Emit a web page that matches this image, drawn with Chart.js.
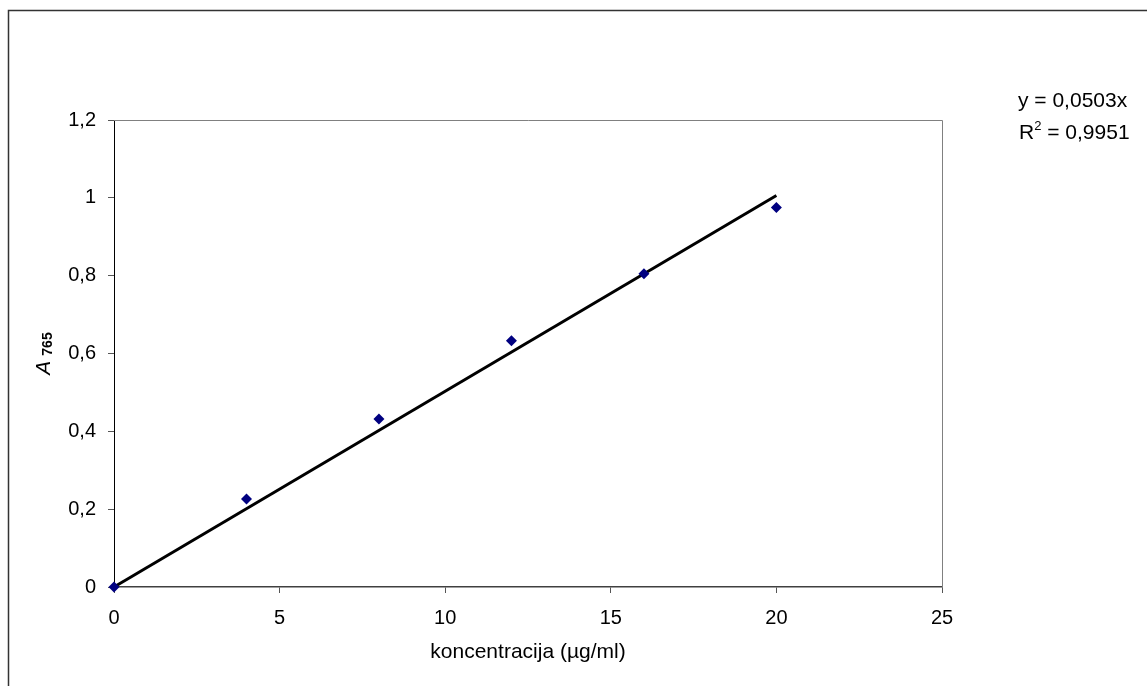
<!DOCTYPE html>
<html>
<head>
<meta charset="utf-8">
<script src="https://cdn.jsdelivr.net/npm/chart.js@4.4.1/dist/chart.umd.min.js"></script>
<style>
  body { margin: 0; background: #fff; }
  canvas { display: block; }
</style>
</head>
<body>
<canvas id="calib" width="1147" height="686"></canvas>
<script>
// measured points
var concentration = [0, 4, 8, 12, 16, 20];
var absorbance = [0, 0.226, 0.432, 0.633, 0.805, 0.975];

// linear trend line, end points
var trendX = [0, 20];
var trendY = [0, 1.006];

var xTicks = [0, 5, 10, 15, 20, 25];
var yTicks = [0, 0.2, 0.4, 0.6, 0.8, 1, 1.2];

var equationText = "y = 0,0503x";
var r2Label = "R";
var r2Value = " = 0,9951";
var xTitle = "koncentracija (\u00b5g/ml)";

var FONT = "'Liberation Sans', Arial, sans-serif";

function toPoints(xs, ys) {
    var pts = [];
    for (var i = 0; i < xs.length; i++) {
        pts.push({ x: xs[i], y: ys[i] });
    }
    return pts;
}

function commaNumber(v) {
    var r = Math.round(v * 10) / 10;
    return String(r).replace('.', ',');
}

// frame, plot border and free text (titles, equation)
var extras = {
    id: 'extras',
    beforeDraw: function(chart) {
        let ctx = chart.ctx;
        ctx.save();
        ctx.fillStyle = '#fff';
        ctx.fillRect(0, 0, chart.width, chart.height);
        ctx.restore();
    },
    afterDraw: function(chart) {
        let ctx = chart.ctx;
        let a = chart.chartArea;
        ctx.save();

        // outer frame
        ctx.strokeStyle = '#333';
        ctx.lineWidth = 1.5;
        ctx.strokeRect(8.5, 10.5, chart.width + 20, chart.height + 20);

        // top and right border of plot area
        ctx.strokeStyle = '#808080';
        ctx.lineWidth = 1;
        ctx.beginPath();
        ctx.moveTo(a.left, a.top + 0.5);
        ctx.lineTo(a.right + 0.5, a.top + 0.5);
        ctx.lineTo(a.right + 0.5, a.bottom);
        ctx.stroke();

        ctx.fillStyle = '#000';

        // x title
        ctx.font = '21px ' + FONT;
        ctx.textAlign = 'center';
        ctx.textBaseline = 'alphabetic';
        ctx.fillText(xTitle, (a.left + a.right) / 2, 658);

        // y title: italic A with subscript 765, rotated
        ctx.save();
        ctx.translate(50, (a.top + a.bottom) / 2);
        ctx.rotate(-Math.PI / 2);
        ctx.textAlign = 'left';
        let fontA = 'italic 21px ' + FONT;
        let fontSub = 'bold 14px ' + FONT;
        ctx.font = fontA;
        let wA = ctx.measureText('A').width;
        ctx.font = fontSub;
        let wS = ctx.measureText('765').width;
        let gap = 5;
        let x0 = -(wA + gap + wS) / 2;
        ctx.font = fontA;
        ctx.fillText('A', x0, 0);
        ctx.font = fontSub;
        ctx.fillText('765', x0 + wA + gap, 2);
        ctx.restore();

        // equation
        ctx.textAlign = 'left';
        ctx.font = '21px ' + FONT;
        ctx.fillText(equationText, 1018, 107);
        ctx.fillText(r2Label, 1019, 139);
        let wR = ctx.measureText(r2Label).width;
        ctx.font = '13px ' + FONT;
        ctx.fillText('2', 1019 + wR, 130);
        let w2 = ctx.measureText('2').width;
        ctx.font = '21px ' + FONT;
        ctx.fillText(r2Value, 1019 + wR + w2, 139);

        ctx.restore();
    }
};

let ctx = document.getElementById('calib');

var calibChart = new Chart(ctx, {
    type: 'scatter',
    data: {
        datasets: [{
            type: 'line',
            data: toPoints(trendX, trendY),
            borderColor: '#000',
            borderWidth: 3,
            pointRadius: 0,
            fill: false,
            order: 2
        }, {
            data: toPoints(concentration, absorbance),
            pointStyle: 'rectRot',
            pointRadius: 5.5,
            pointBackgroundColor: '#000080',
            pointBorderColor: '#000080',
            pointBorderWidth: 0,
            order: 1
        }]
    },
    options: {
        responsive: false,
        animation: false,
        clip: false,
        layout: { padding: { left: 0, top: 120, right: 205, bottom: 0 } },
        plugins: {
            legend: { display: false },
            tooltip: { enabled: false }
        },
        scales: {
            x: {
                type: 'linear',
                min: xTicks[0],
                max: xTicks[xTicks.length - 1],
                afterBuildTicks: function(scale) {
                    scale.ticks = xTicks.map(function(v) { return { value: v }; });
                },
                afterFit: function(scale) { scale.height = 99; },
                grid: { drawOnChartArea: false, tickLength: 6, color: '#555', lineWidth: 1 },
                border: { color: '#404040', width: 1.5 },
                ticks: {
                    color: '#000',
                    padding: 13,
                    font: { family: FONT, size: 20 },
                    callback: function(v) { return commaNumber(v); }
                }
            },
            y: {
                type: 'linear',
                min: yTicks[0],
                max: yTicks[yTicks.length - 1],
                afterBuildTicks: function(scale) {
                    scale.ticks = yTicks.map(function(v) { return { value: v }; });
                },
                afterFit: function(scale) { scale.width = 114; },
                grid: { drawOnChartArea: false, tickLength: 6, color: '#555', lineWidth: 1 },
                border: { color: '#000', width: 1 },
                ticks: {
                    color: '#000',
                    padding: 12,
                    font: { family: FONT, size: 20 },
                    callback: function(v) { return commaNumber(v); }
                }
            }
        }
    },
    plugins: [extras]
});
</script>
</body>
</html>
